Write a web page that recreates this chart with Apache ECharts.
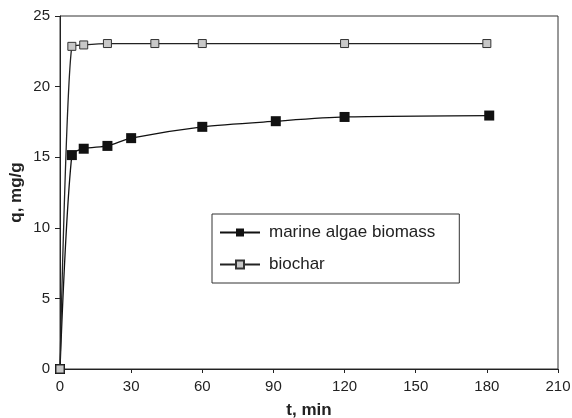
<!DOCTYPE html>
<html>
<head>
<meta charset="utf-8">
<script src="https://cdn.jsdelivr.net/npm/echarts@6/dist/echarts.min.js"></script>
<style>
	html, body { margin: 0; padding: 0; background: #fff; }
	#chart { width: 572px; height: 418px; }
</style>
</head>
<body>
<div id="chart"></div>
<script>
// 数据
const algaeTime = [0, 5, 10, 20, 30, 60, 91, 120, 181];
const algaeQ = [0, 15.15, 15.6, 15.8, 16.35, 17.15, 17.55, 17.85, 17.95];
const charTime = [0, 5, 10, 20, 40, 60, 120, 180];
const charQ = [0, 22.85, 22.95, 23.05, 23.05, 23.05, 23.05, 23.05];
const xTicks = [0, 210, 30];
const yTicks = [0, 25, 5];

function pairs(xs, ys) {
	return xs.map((x, i) => [x, ys[i]]);
}

let myChart = echarts.init(document.getElementById('chart'));

let font = 'Liberation Sans, Arial, sans-serif';

let option = {
	animation: false,
	grid: {
		left: 60,
		right: 14,
		top: 16,
		bottom: 49,
		containLabel: false,
		outerBoundsMode: 'none',
		show: true,
		borderColor: '#333',
		borderWidth: 1,
	},
	legend: {
		orient: 'vertical',
		left: 212,
		top: 214,
		itemWidth: 40,
		itemHeight: 10,
		itemGap: 15,
		padding: [10, 24, 10, 7],
		borderColor: '#333',
		borderWidth: 1,
		textStyle: {
			fontFamily: font,
			fontSize: 17,
			color: '#222',
			padding: [0, 0, 0, 4],
		},
		data: ['marine algae biomass', 'biochar'],
	},
	xAxis: {
		type: 'value',
		min: xTicks[0],
		max: xTicks[1],
		interval: xTicks[2],
		name: 't, min',
		nameLocation: 'middle',
		nameGap: 33,
		nameTextStyle: { fontFamily: font, fontSize: 17, fontWeight: 'bold', color: '#222' },
		splitLine: { show: false },
		axisLine: { lineStyle: { color: '#222' } },
		axisTick: { inside: false, length: 4, lineStyle: { color: '#222' } },
		axisLabel: { fontFamily: font, fontSize: 15, color: '#222', margin: 10 },
	},
	yAxis: {
		type: 'value',
		min: yTicks[0],
		max: yTicks[1],
		interval: yTicks[2],
		name: 'q, mg/g',
		nameLocation: 'middle',
		nameGap: 35,
		nameMoveOverlap: false,
		nameTextStyle: { fontFamily: font, fontSize: 17, fontWeight: 'bold', color: '#222' },
		splitLine: { show: false },
		axisLine: { show: true, lineStyle: { color: '#222' } },
		axisTick: { show: true, inside: false, length: 5, lineStyle: { color: '#222' } },
		axisLabel: { fontFamily: font, fontSize: 15, color: '#222', margin: 10 },
	},
	series: [
		{
			name: 'marine algae biomass',
			type: 'line',
			smooth: 0.25,
			data: pairs(algaeTime, algaeQ),
			symbol: 'rect',
			symbolSize: 10,
			lineStyle: { color: '#111', width: 1.3 },
			itemStyle: { color: '#111', borderColor: '#111', borderWidth: 0 },
			z: 3,
		},
		{
			name: 'biochar',
			type: 'line',
			smooth: 0.25,
			data: pairs(charTime, charQ),
			symbol: 'rect',
			symbolSize: 8,
			lineStyle: { color: '#222', width: 1.3 },
			itemStyle: { color: '#c8c8c8', borderColor: '#333', borderWidth: 1 },
			z: 4,
		},
	],
};

myChart.setOption(option);
</script>
</body>
</html>
